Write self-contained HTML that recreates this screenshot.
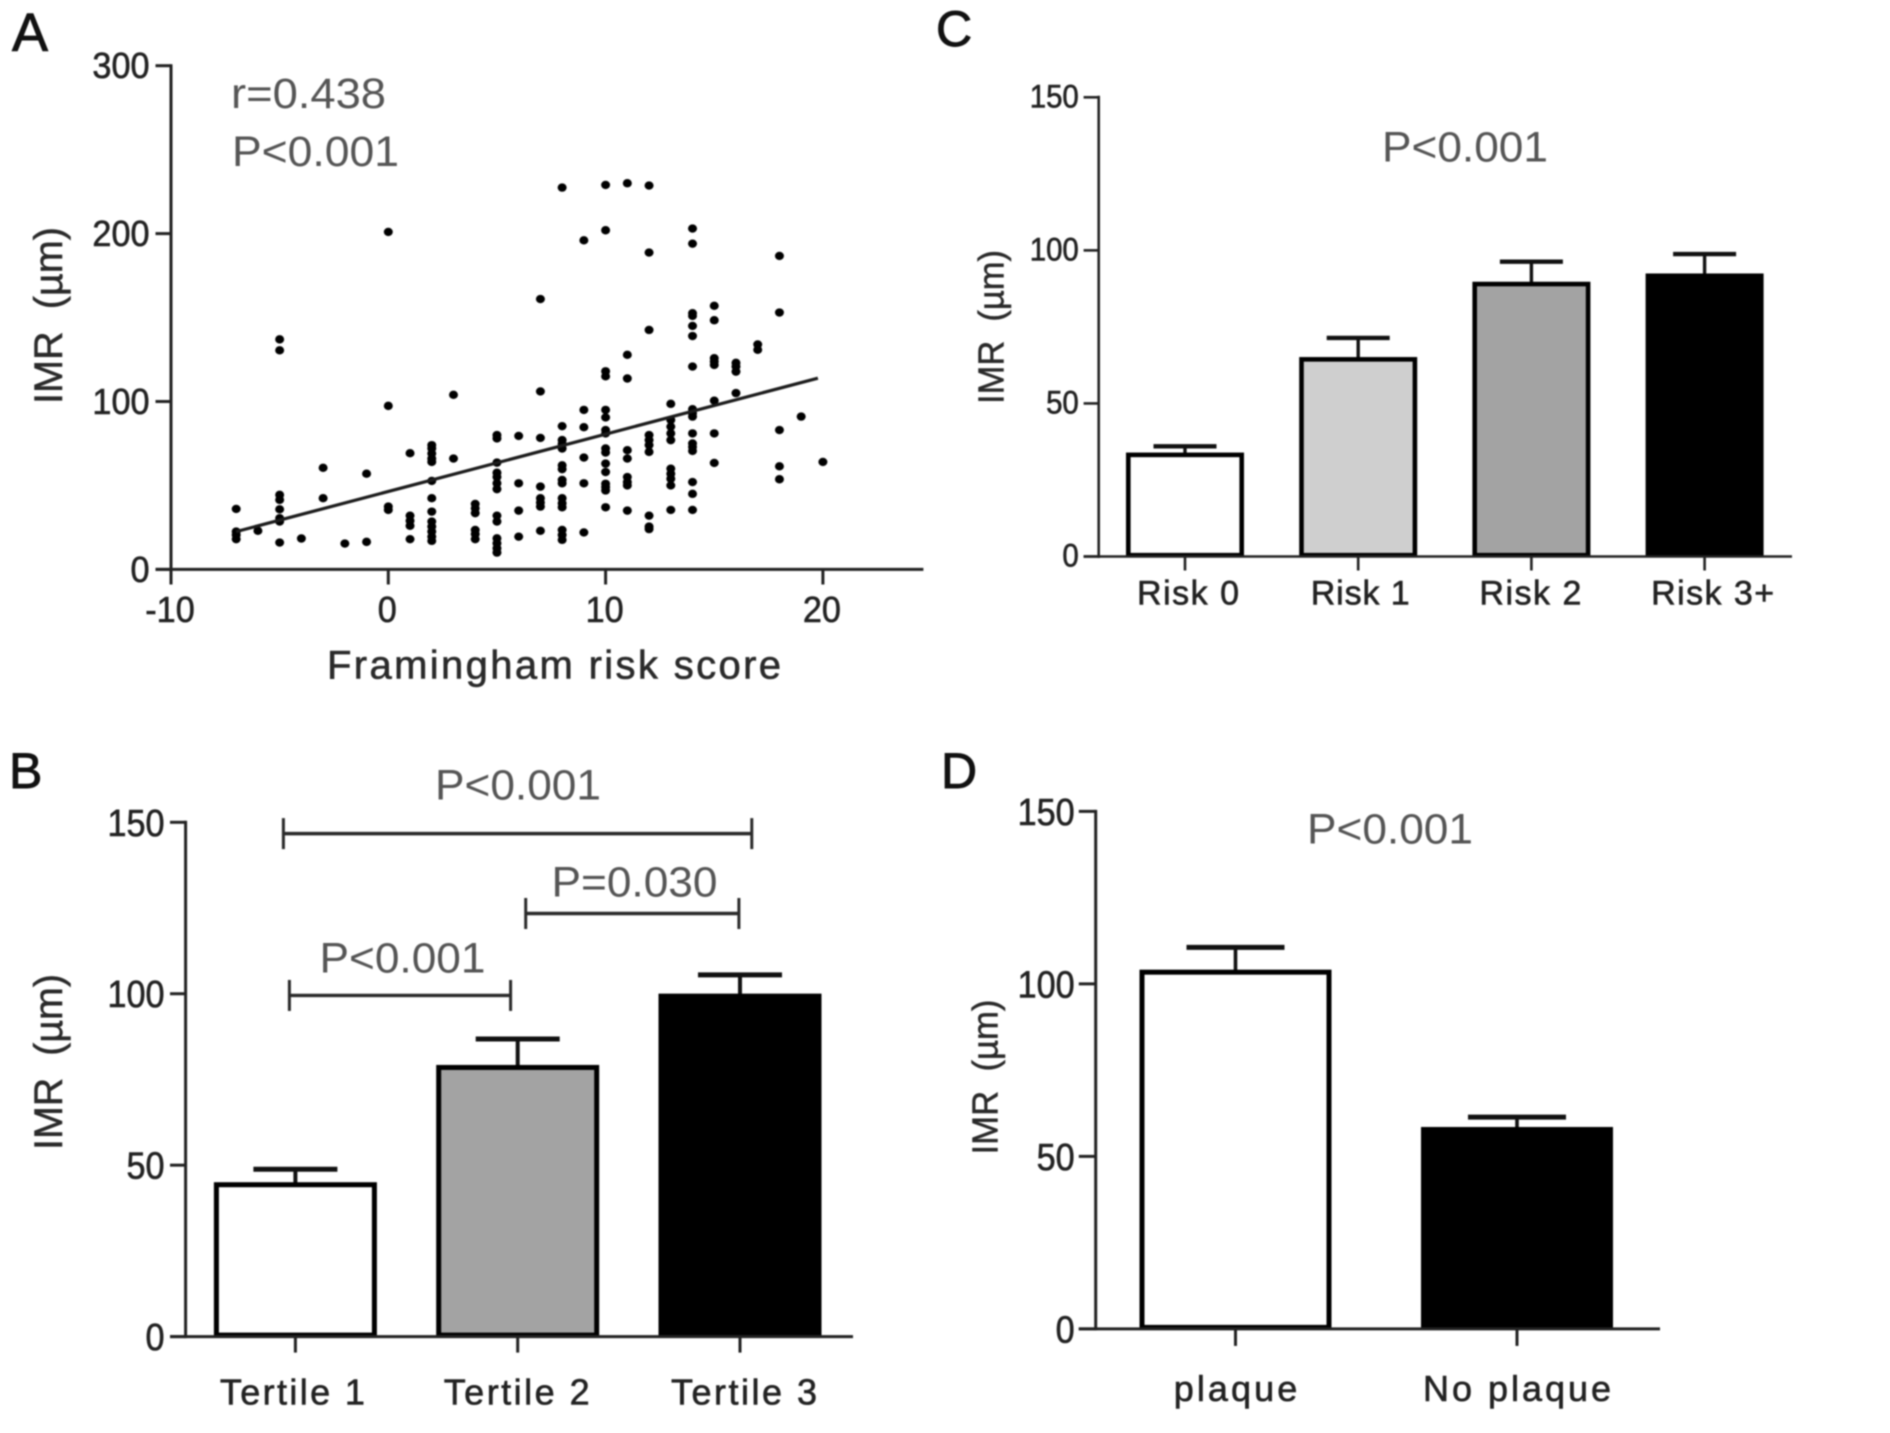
<!DOCTYPE html>
<html lang="en">
<head>
<meta charset="utf-8">
<title>IMR charts</title>
<style>
html,body{margin:0;padding:0;background:#fff;}
body{width:1890px;height:1433px;overflow:hidden;}
svg{display:block;filter:blur(.7px);font-family:"Liberation Sans",sans-serif;}
</style>
</head>
<body>
<svg id="figure" width="1890" height="1433" viewBox="0 0 1890 1433" xmlns="http://www.w3.org/2000/svg">
  <rect width="1890" height="1433" fill="#fff"/>
  <g id="panel-a"></g>
  <g id="panel-b"></g>
  <g id="panel-c"></g>
  <g id="panel-d"></g>
</svg>
<script>
// ---------- Panel A data ----------
const riskScores = [
  -7,-7,-7,-7,
  -6,
  -5,-5,-5,-5,-5,-5,-5,-5,
  -4,
  -3,-3,
  -2,
  -1,-1,
  0,0,0,0,
  1,1,1,1,1,
  2,2,2,2,2,2,2,2,2,2,2,2,2,
  3,3,
  4,4,4,4,4,4,
  5,5,5,5,5,5,5,5,5,5,5,5,5,
  6,6,6,6,
  7,7,7,7,7,7,7,7,
  8,8,8,8,8,8,8,8,8,8,8,8,8,8,8,
  9,9,9,9,9,9,
  10,10,10,10,10,10,10,10,10,10,10,10,10,10,10,10,
  11,11,11,11,11,11,11,11,11,
  12,12,12,12,12,12,12,12,12,12,
  13,13,13,13,13,13,13,13,13,13,
  14,14,14,14,14,14,14,14,14,14,14,14,14,14,14,14,14,
  15,15,15,15,15,15,15,15,
  16,16,16,16,
  17,17,
  18,18,18,18,18,
  19,
  20
];
const imrValues = [
  36,22.5,20.5,18,
  23,
  137,130.5,44.4,41.4,35.8,30.5,28.5,16,
  18.4,
  60.5,42.4,
  15.4,
  57,16.4,
  201,97.4,37.4,35.4,
  69.2,32,29,26,18,
  74,72,69,66,64,52.7,42.4,34.4,28.5,25.5,22.5,19.5,17,
  104,66,
  39,36.4,33.5,23.5,21,18,
  80,78,63.6,57.6,55,51.3,47.8,32,28.5,18.5,15.6,12.6,10,
  79.5,51.3,35,19.5,
  161,106,78.3,49.3,42.4,39.8,37.4,23,
  227.4,85.3,77,74.7,72,62,59.7,53.3,51.3,42.4,39.4,37,23.5,20.5,17.6,
  196,95,84.7,66.6,51.3,22,
  229,202,118,115,95,90.5,83,81,72,69.6,63,58,51,49,47,37,
  230,127.8,113.7,71,66,55,52,50,35,
  228.6,188.7,142.6,80,77,74,70,32,25.5,24,
  98.6,89,85,81,77,60,57,54,50,35.4,
  203,194,152.6,151,145,139,120.8,95.4,93,91,81,75,73,70.6,52,45,35.4,
  157,148.4,125.8,123.8,121.8,100.5,81,63.4,
  123,120.8,117.8,105,
  134,130.8,
  186.7,153,83,61.4,53.7,
  91,
  64
];
const regressionX = [-7, 19.77];
const regressionY = [22.5, 113.9];
const scatterXTicks = [-10, 0, 10, 20];
const scatterYTicks = [0, 100, 200, 300];

// ---------- Panel B data ----------
const tertileCategories = ["Tertile 1", "Tertile 2", "Tertile 3"];
const tertileMeans = [44.3, 78.5, 99.3];
const tertileErrors = [48.8, 86.8, 105.5];
const tertileFills = ["#ffffff", "#a3a3a3", "#000000"];
const bracketFrom = [-0.054, 1.036, -0.027];
const bracketTo = [2.053, 1.995, 0.968];
const bracketLevel = [146.7, 123.4, 99.5];
const bracketLabels = ["P<0.001", "P=0.030", "P<0.001"];

// ---------- Panel C data ----------
const riskCategories = ["Risk 0", "Risk 1", "Risk 2", "Risk 3+"];
const riskMeans = [33.2, 64.4, 89.0, 91.7];
const riskErrors = [36, 71.4, 96.3, 98.8];
const riskFills = ["#ffffff", "#cfcfcf", "#a3a3a3", "#000000"];

// ---------- Panel D data ----------
const plaqueCategories = ["plaque", "No plaque"];
const plaqueMeans = [103.4, 57.8];
const plaqueErrors = [110.6, 61.4];
const plaqueFills = ["#ffffff", "#000000"];

const barYTicks = [0, 50, 100, 150];

// ---------- helpers ----------
const NS = "http://www.w3.org/2000/svg";
function make(tag, attrs, parent) {
  const node = document.createElementNS(NS, tag);
  for (const k in attrs) node.setAttribute(k, attrs[k]);
  parent.appendChild(node);
  return node;
}
function linear(d0, d1, r0, r1) {
  return v => r0 + (v - d0) * (r1 - r0) / (d1 - d0);
}
function lineAttrs(x1, y1, x2, y2, w, color) {
  return {x1: x1, y1: y1, x2: x2, y2: y2, stroke: color || "#222", "stroke-width": w};
}
function panelLetter(parent, ch, x, y, size) {
  const t = make("text", {x: x, y: y, "font-size": size, fill: "#111", stroke: "#111", "stroke-width": 0.9}, parent);
  t.textContent = ch;
  
  
}
function pText(parent, str, x, y, w, name) {
  const t = make("text", {x: x, y: y, "font-size": 43, fill: "#555", textLength: w, lengthAdjust: "spacingAndGlyphs"}, parent);
  t.textContent = str;
  
  
}
function yTitle(parent, x, yBottom, len, size) {
  const t = make("text", {transform: "translate(" + x + "," + yBottom + ") rotate(-90)", "font-size": size, fill: "#2a2a2a", stroke: "#2a2a2a", "stroke-width": 0.5, textLength: len, lengthAdjust: "spacingAndGlyphs"}, parent);
  t.textContent = "IMR\u00a0\u00a0(\u00b5m)";
  
  
}
function yAxisDraw(parent, ticks, y, cfg) {
  const axis = make("line", lineAttrs(cfg.axisX, y(ticks[ticks.length - 1]) - 1.5, cfg.axisX, y(ticks[0]) + 1.5, cfg.axisW), parent);
  
  
  ticks.forEach(v => {
    const tick = make("line", lineAttrs(cfg.tickLeft, y(v), cfg.axisX, y(v), cfg.axisW), parent);
    
    
    const lab = make("text", {transform: "translate(" + cfg.labelEnd + "," + (y(v) + cfg.labelDy) + ") scale(" + cfg.labelSx + ",1)", "text-anchor": "end", "font-size": cfg.labelSize, fill: "#222", stroke: "#222", "stroke-width": 0.6}, parent);
    lab.textContent = String(v);
    
    
  });
}

// ---------- Panel A ----------
(function () {
  const g = document.getElementById("panel-a");
  const x = linear(-10, 20, 171, 822.9);
  const y = linear(0, 300, 569.4, 65.7);
  panelLetter(g, "A", 12, 51, 54);
  yAxisDraw(g, scatterYTicks, y, {axisX: 171, axisW: 3, tickLeft: 155.5, labelEnd: 149.5, labelDy: 12.5, labelSx: 0.95, labelSize: 36});
  const xAxis = make("line", lineAttrs(155.5, y(0), 923.4, y(0), 3), g);
  
  
  scatterXTicks.forEach(v => {
    const tick = make("line", lineAttrs(x(v), y(0), x(v), 584.5, 3), g);
    
    
    const lab = make("text", {transform: "translate(" + (x(v) - 1) + ",622) scale(0.95,1)", "text-anchor": "middle", "font-size": 36, fill: "#222", stroke: "#222", "stroke-width": 0.6}, g);
    lab.textContent = String(v);
    
    
  });
  const dots = make("g", {fill: "#000"}, g);
  
  
  riskScores.forEach((s, i) => {
    const c = make("ellipse", {cx: x(s), cy: y(imrValues[i]), rx: 4.5, ry: 4.2}, dots);
    
    
  });
  const reg = make("line", lineAttrs(x(regressionX[0]), y(regressionY[0]), x(regressionX[1]), y(regressionY[1]), 3.2, "#1c1c1c"), g);
  
  
  yTitle(g, 62, 404, 177, 40);
  const xt = make("text", {x: 327, y: 678.5, "font-size": 40, fill: "#2a2a2a", stroke: "#2a2a2a", "stroke-width": 0.6, textLength: 454, lengthAdjust: "spacing"}, g);
  xt.textContent = "Framingham risk score";
  
  
  pText(g, "r=0.438", 231, 108, 155, 'correlation-label');
  pText(g, "P<0.001", 232, 166, 167, 'p-value-label');
})();

// ---------- bar panels ----------
function drawBars(g, cats, means, errs, fills, cfg) {
  const y = linear(0, 150, cfg.y0, cfg.yTop);
  const x = i => cfg.firstCenter + i * cfg.step;
  yAxisDraw(g, barYTicks, y, cfg);
  cats.forEach((cat, i) => {
    const slug = cat.toLowerCase().replace(/[^a-z0-9]+/g, '-');
    const stem = make("line", lineAttrs(x(i), y(means[i]), x(i), y(errs[i]), cfg.stemW, "#111"), g);
    
    
    const cap = make("line", lineAttrs(x(i) - cfg.capW / 2, y(errs[i]), x(i) + cfg.capW / 2, y(errs[i]), cfg.capH, "#111"), g);
    
    
    const bar = make("rect", {
      x: x(i) - cfg.barW / 2 + cfg.sw / 2, y: y(means[i]),
      width: cfg.barW - cfg.sw, height: y(0) - y(means[i]) - cfg.sw / 2 + 1,
      fill: fills[i], stroke: "#000", "stroke-width": cfg.sw
    }, g);
    
    
    const tick = make("line", lineAttrs(x(i), y(0), x(i), y(0) + cfg.xTick, cfg.axisW), g);
    
    
    const lab = make("text", {x: x(i) + cfg.catOffsets[i] - cfg.catWidths[i] / 2, y: cfg.catY, "font-size": cfg.catSize, fill: "#222", stroke: "#222", "stroke-width": 0.6, textLength: cfg.catWidths[i], lengthAdjust: "spacing"}, g);
    lab.textContent = cat;
    
    
  });
  const xAxis = make("line", lineAttrs(cfg.tickLeft, y(0), cfg.xEnd, y(0), cfg.axisW), g);
  
  
  return {x: x, y: y};
}

// Panel B
(function () {
  const g = document.getElementById("panel-b");
  panelLetter(g, "B", 9, 788, 50);
  const cfg = {axisX: 185.6, axisW: 3, tickLeft: 170, xEnd: 853, y0: 1336.6, yTop: 822.3,
    labelEnd: 164.5, labelDy: 13.5, labelSx: 0.9, labelSize: 38,
    firstCenter: 295.4, step: 222.3, barW: 163, capW: 84, sw: 5, stemW: 4, capH: 5, xTick: 16,
    catOffsets: [-3, -1, 4], catWidths: [145, 146, 146], catY: 1404.5, catSize: 36};
  const s = drawBars(g, tertileCategories, tertileMeans, tertileErrors, tertileFills, cfg);
  const labelBox = [[435, 799.5], [551.5, 896.5], [319.5, 972.5]];
  bracketLevel.forEach((lvl, i) => {
    const x1 = s.x(bracketFrom[i]), x2 = s.x(bracketTo[i]), yy = s.y(lvl);
    const h = make("line", lineAttrs(x1, yy, x2, yy, 3.4, "#2a2a2a"), g);
    
    
    const l = make("line", lineAttrs(x1, yy - 15.5, x1, yy + 15.5, 3, "#2a2a2a"), g);
    
    
    const r = make("line", lineAttrs(x2, yy - 15.5, x2, yy + 15.5, 3, "#2a2a2a"), g);
    
    
    pText(g, bracketLabels[i], labelBox[i][0], labelBox[i][1], 166, 'significance-label');
  });
  yTitle(g, 62, 1150, 176, 40);
})();

// Panel C
(function () {
  const g = document.getElementById("panel-c");
  panelLetter(g, "C", 936, 46, 50);
  const cfg = {axisX: 1098.7, axisW: 2.6, tickLeft: 1083.6, xEnd: 1792, y0: 556.5, yTop: 97.3,
    labelEnd: 1078.8, labelDy: 10, labelSx: 0.92, labelSize: 32,
    firstCenter: 1185, step: 173.2, barW: 118, capW: 63, sw: 4.6, stemW: 3.4, capH: 4.4, xTick: 14,
    catOffsets: [3, 2, -1, 8], catWidths: [102, 99, 102, 123], catY: 604.5, catSize: 34};
  drawBars(g, riskCategories, riskMeans, riskErrors, riskFills, cfg);
  yTitle(g, 1003.5, 404, 154, 36);
  pText(g, "P<0.001", 1382, 161.5, 166, 'p-value-label');
})();

// Panel D
(function () {
  const g = document.getElementById("panel-d");
  panelLetter(g, "D", 941, 788, 50);
  const cfg = {axisX: 1095.7, axisW: 3, tickLeft: 1078.8, xEnd: 1660, y0: 1328.9, yTop: 811.4,
    labelEnd: 1074.6, labelDy: 13.5, labelSx: 0.9, labelSize: 38,
    firstCenter: 1235.5, step: 281.5, barW: 192, capW: 98, sw: 5, stemW: 3.6, capH: 5, xTick: 17,
    catOffsets: [0, 0], catWidths: [123.6, 188], catY: 1400.8, catSize: 36};
  drawBars(g, plaqueCategories, plaqueMeans, plaqueErrors, plaqueFills, cfg);
  yTitle(g, 997.4, 1154.5, 155, 36);
  pText(g, "P<0.001", 1307, 843.7, 166, 'p-value-label');
})();
</script>
</body>
</html>
